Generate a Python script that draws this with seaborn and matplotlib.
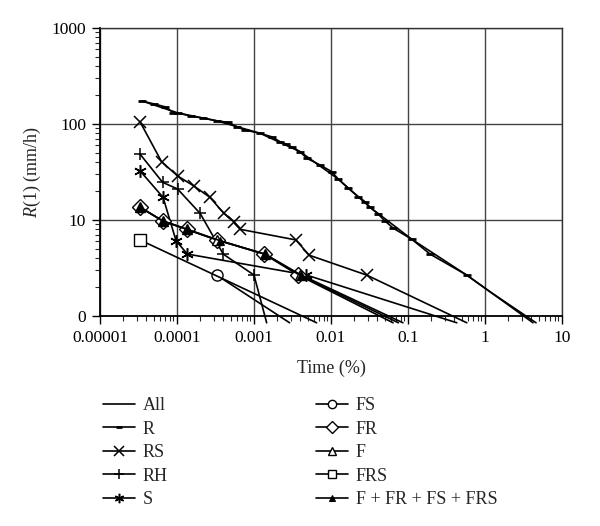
import numpy as np
import pandas as pd
import matplotlib
matplotlib.use("Agg")
import matplotlib.pyplot as plt
import seaborn as sns

# ---------------- data (time in %, rain rate in mm/h) ----------------
all_x = [3.48e-5, 1.04e-4, 3.27e-4, 1.2e-3, 3.96e-3, 1.24e-2, 3.2e-2, 0.112, 0.578, 1.16, 4.2]
all_y = [174, 130, 108, 80, 51.5, 26.7, 13.6, 6.3, 2.67, 1.79, 0.85]

r_x = [3.48e-5, 5.0e-5, 7.0e-5, 8.96e-5, 1.04e-4, 1.5e-4, 2.2e-4, 3.27e-4, 4.64e-4,
       5.96e-4, 7.6e-4, 1.2e-3, 1.7e-3, 2.18e-3, 2.6e-3, 3.1e-3, 3.96e-3, 4.84e-3,
       7.2e-3, 1.02e-2, 1.24e-2, 1.68e-2, 2.26e-2, 2.77e-2, 3.2e-2, 4.1e-2, 5.0e-2,
       6.46e-2, 0.112, 0.193, 0.578, 1.16, 4.6]
r_y = [174, 162, 151, 131, 130, 121, 115, 108, 104, 93.7, 86.6, 80, 73.5, 65.4, 62,
       57.6, 51.5, 44, 37.4, 31.9, 26.7, 21.4, 17.5, 15.5, 13.6, 11.5, 9.8, 8.2, 6.3,
       4.42, 2.67, 1.79, 0.85]

rs_x = [3.3e-5, 6.3e-5, 1.02e-4, 1.66e-4, 2.68e-4, 4.07e-4, 5.5e-4, 6.6e-4, 3.5e-3, 5.2e-3, 0.029, 0.58]
rs_y = [106, 40.5, 28.7, 22.6, 17.2, 11.7, 9.6, 8.0, 6.2, 4.3, 2.67, 0.85]

rh_x = [3.3e-5, 6.5e-5, 1.02e-4, 2.0e-4, 4.0e-4, 1.0e-3, 1.46e-3]
rh_y = [48.7, 24.7, 21, 11.7, 4.4, 2.67, 0.85]

s_x = [3.3e-5, 6.6e-5, 9.7e-5, 1.36e-4, 4.8e-3, 0.43]
s_y = [32.6, 17.2, 6.1, 4.42, 2.67, 0.85]

fs_x = [3.27e-4, 2.9e-3]
fs_y = [2.67, 0.85]

fr_x = [3.3e-5, 6.5e-5, 1.33e-4, 3.27e-4, 1.35e-3, 3.76e-3, 0.064]
fr_y = [13.6, 9.8, 8.0, 6.2, 4.42, 2.67, 0.85]

f_x = [3.3e-5, 6.5e-5, 1.33e-4, 3.3e-4, 1.37e-3, 3.9e-3, 0.075]
f_y = [13.6, 9.8, 8.0, 6.2, 4.42, 2.67, 0.85]

frs_x = [3.3e-5, 6.5e-3]
frs_y = [6.2, 0.85]

sum_x = [3.3e-5, 6.5e-5, 1.36e-4, 3.6e-4, 1.4e-3, 4.1e-3, 0.086]
sum_y = [13.6, 9.8, 8.0, 6.1, 4.4, 2.67, 0.85]

x_ticks = [1e-5, 1e-4, 1e-3, 1e-2, 1e-1, 1, 10]
x_labels = ["0.00001", "0.0001", "0.001", "0.01", "0.1", "1", "10"]
y_ticks = [1, 10, 100, 1000]
y_labels = ["0", "10", "100", "1000"]

# ---------------- style ----------------
sns.set_style("ticks")
plt.rcParams["font.family"] = ["Liberation Serif", "DejaVu Serif"]
plt.rcParams["mathtext.fontset"] = "custom"
plt.rcParams["mathtext.rm"] = "Liberation Serif"
plt.rcParams["mathtext.it"] = "Liberation Serif:italic"

fig = plt.figure(figsize=(6.0, 5.26), dpi=100)
ax = fig.add_axes([100 / 600, 1 - 316 / 526, 462 / 600, 288 / 526])

lw = 1.2
common = dict(color="black", linewidth=lw, clip_on=False, sort=False, estimator=None,
              markeredgecolor="black")

series = [
    ("All", all_x, all_y, dict()),
    ("R", r_x, r_y, dict(marker="_", markersize=6, markeredgewidth=2.0,
                         markevery=list(range(len(r_x) - 2)))),
    ("RS", rs_x, rs_y, dict(marker="x", markersize=9, markeredgewidth=1.1,
                            markevery=list(range(len(rs_x) - 1)))),
    ("RH", rh_x, rh_y, dict(marker="+", markersize=9, markeredgewidth=1.1,
                            markevery=list(range(len(rh_x) - 1)))),
    ("S", s_x, s_y, dict(marker=(6, 2, 0), markersize=9, markeredgewidth=1.1,
                         markevery=list(range(len(s_x) - 1)))),
    ("FS", fs_x, fs_y, dict(marker="o", markersize=8, markerfacecolor="white",
                            markeredgewidth=1.0, markevery=[0])),
    ("FR", fr_x, fr_y, dict(marker="D", markersize=8, markerfacecolor="white",
                            markeredgewidth=1.0, markevery=list(range(len(fr_x) - 1)))),
    ("F", f_x, f_y, dict(marker="^", markersize=7, markerfacecolor="white",
                         markeredgewidth=1.0, markevery=list(range(len(f_x) - 1)))),
    ("FRS", frs_x, frs_y, dict(marker="s", markersize=8, markerfacecolor="white",
                               markeredgewidth=1.0, markevery=[0])),
    ("F + FR + FS + FRS", sum_x, sum_y, dict(marker="^", markersize=6,
                                             markerfacecolor="black",
                                             markevery=list(range(len(sum_x) - 1)))),
]

for name, xs, ys, kw in series:
    df = pd.DataFrame({"x": xs, "y": ys})
    sns.lineplot(data=df, x="x", y="y", ax=ax, label=name, **common, **kw)

ax.set_xscale("log")
ax.set_yscale("log")
ax.set_xlim(1e-5, 10)
ax.set_ylim(1, 1000)
ax.set_xticks(x_ticks, labels=x_labels)
ax.set_yticks(y_ticks, labels=y_labels)
ax.grid(True, which="major", color="#444444", linewidth=1.0)
ax.set_axisbelow(True)
for sp in ax.spines.values():
    sp.set_visible(True)
    sp.set_color("#333333")
    sp.set_linewidth(1.0)
ax.spines["left"].set_color("black")
ax.spines["bottom"].set_color("black")
ax.spines["left"].set_linewidth(1.3)
ax.spines["bottom"].set_linewidth(1.3)

ax.tick_params(axis="both", which="major", direction="out", length=6, width=1.0,
               labelsize=12.5, colors="black", pad=4)
ax.tick_params(axis="both", which="minor", direction="out", length=3.5, width=0.8)
ax.set_xlabel("Time (%)", fontsize=13, labelpad=10)
ax.set_ylabel(r"$\it{R}$(1) (mm/h)", fontsize=13, labelpad=6)

handles, labels = ax.get_legend_handles_labels()
ax.get_legend().remove()
fig.legend(handles, labels, ncol=2, loc="upper left",
           bbox_to_anchor=(96 / 600, 1 - 390 / 526), frameon=False,
           fontsize=13, handlelength=1.75, handletextpad=0.45, markerscale=0.75,
           columnspacing=8.2, labelspacing=0.36, borderaxespad=0)

fig.savefig("out.png", dpi=100)
